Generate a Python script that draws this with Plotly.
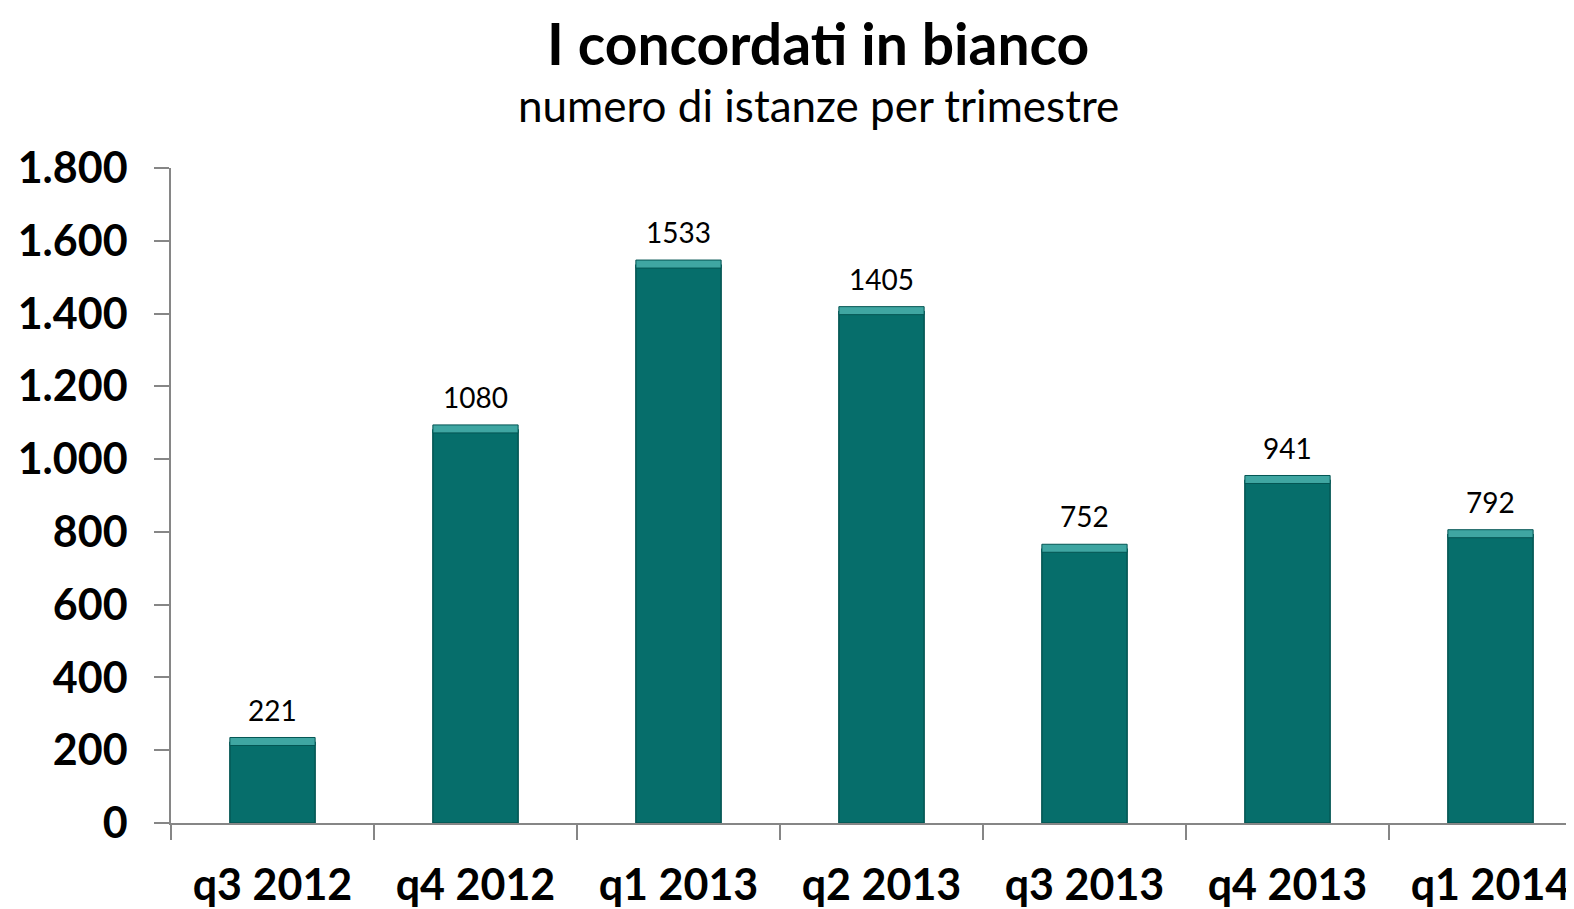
import plotly.graph_objects as go

categories = ["q3 2012", "q4 2012", "q1 2013", "q2 2013", "q3 2013", "q4 2013", "q1 2014"]
values = [221, 1080, 1533, 1405, 752, 941, 792]
y_ticks = [0, 200, 400, 600, 800, 1000, 1200, 1400, 1600, 1800]

FONT = "Lato"
OFF = 8  # default page body margin
W, H = 1574 - OFF, 909 - OFF
L, R, T, B = 171 - OFF, 0, 168 - OFF, 909 - 826
PW = W - L - R
PH = H - T - B

fig = go.Figure()
fig.add_trace(go.Bar(
    x=categories, y=values, width=0.42,
    marker=dict(color="#066e6b", line=dict(color="#045553", width=1.5)),
    hoverinfo="skip",
))
# top bevel highlight
fig.add_trace(go.Bar(
    x=categories, y=[22] * len(values), base=[v - 8 for v in values], width=0.42,
    marker=dict(color="#3fa6a2", line=dict(color="#045553", width=1)),
    hoverinfo="skip",
))

annotations = [
    dict(text="<b>I concordati in bianco</b>", xref="paper", yref="paper",
         x=(818 - 171) / PW, y=(826 - 42) / PH, xanchor="center", yanchor="middle",
         showarrow=False, font=dict(family=FONT, size=57, color="black")),
    dict(text="numero di istanze per trimestre", xref="paper", yref="paper",
         x=(818 - 171) / PW, y=(826 - 105) / PH, xanchor="center", yanchor="middle",
         showarrow=False, font=dict(family=FONT, size=44, color="black")),
]
for c, v in zip(categories, values):
    annotations.append(dict(
        x=c, y=v, xref="x", yref="y", text=str(v), showarrow=False,
        yanchor="bottom", yshift=14, font=dict(family=FONT, size=28, color="black"),
    ))

fig.update_layout(
    width=W, height=H, margin=dict(l=L, r=R, t=T, b=B),
    paper_bgcolor="white", plot_bgcolor="white",
    barmode="overlay", showlegend=False, separators=",.",
    font=dict(family=FONT, color="black"),
    annotations=annotations,
)
fig.update_xaxes(
    type="category", range=[-0.5, -0.5 + PW / 203.0],
    showline=True, linecolor="#868686", linewidth=1.5,
    ticks="outside", tickson="boundaries", ticklen=15, tickcolor="#868686", tickwidth=1.5,
    tickfont=dict(family=FONT, size=43, color="black", weight="bold"),
    ticklabelstandoff=24, showgrid=False, zeroline=False,
)
fig.update_yaxes(
    range=[0, 1800], tickvals=y_ticks, tickformat=",d",
    showline=True, linecolor="#868686", linewidth=1.5,
    ticks="outside", ticklen=15, tickcolor="#868686", tickwidth=1.5,
    tickfont=dict(family=FONT, size=43, color="black", weight="bold"),
    ticklabelstandoff=18, showgrid=False, zeroline=False,
)
fig.write_html("out.html")
